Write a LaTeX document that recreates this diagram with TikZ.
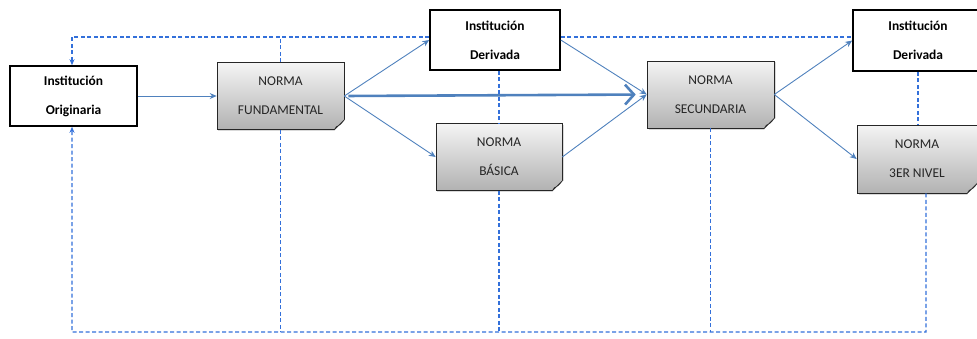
\documentclass[tikz,border=0pt]{standalone}
\usepackage{fontspec}
\setmainfont{Carlito}
\usetikzlibrary{arrows.meta, positioning, calc, shadows}
\definecolor{cblue}{HTML}{4F81BD}
\definecolor{cdash}{HTML}{3370DA}
\definecolor{ctop}{HTML}{F4F4F4}
\definecolor{cbot}{HTML}{B2B2B2}

\begin{document}
\begin{tikzpicture}[x=1bp, y=-1bp,
  inst/.style={draw=black, line width=1.6pt, fill=white, inner sep=0pt,
    minimum width=127bp, minimum height=60bp, align=center,
    font=\fontsize{13.5}{29}\selectfont\bfseries},
  norma/.style={draw=black!85, line width=0.6pt,
    top color=ctop, bottom color=cbot, inner sep=0pt,
    drop shadow={shadow xshift=1.5pt, shadow yshift=-1.5pt, opacity=0.3},
    minimum width=127bp, minimum height=67bp, align=center, text=black!85,
    font=\fontsize{13.5}{29}\selectfont},
  flow/.style={cblue, line width=0.9pt, -{Stealth[length=7pt, width=6pt]}},
  fb/.style={cdash, line width=1.4bp, dash pattern=on 4bp off 2.5bp},
  fbarr/.style={fb, -{Stealth[length=6pt, width=5pt]}}]
  \useasboundingbox (0,0) rectangle (977,338);
  \clip (0,0) rectangle (977,338);

  % corners of the feedback loop
  \coordinate (tl) at (72,37);
  \coordinate (bl) at (72,332);
  \coordinate (br) at (926,332);

  \node[inst] (orig) at (73.5,96) {Institución\\Originaria};
  \node[norma] (fund) at (280.5,96) {NORMA\\FUNDAMENTAL};
  \node[inst, minimum width=130bp] (der1) at (495,40) {Institución\\Derivada};
  \node[norma, minimum width=126bp] (bas) at (499,157) {NORMA\\BÁSICA};
  \node[norma] (sec) at (710.5,94.5) {NORMA\\SECUNDARIA};
  \node[inst, minimum width=130bp, minimum height=61bp] (der2) at (918,40.5) {Institución\\Derivada};
  \node[norma, minimum width=120bp, minimum height=68bp] (niv3) at (917,159) {NORMA\\3ER NIVEL};

  % folded corners
  \foreach \n in {fund,bas,sec,niv3}{
    \coordinate (fc) at (\n.south east);
    \fill[white] ($(fc)+(-10,0)$) -- ($(fc)+(-10,3)$) -- ($(fc)+(3,3)$)
      -- ($(fc)+(3,-10)$) -- ($(fc)+(0,-10)$) -- cycle;
    \draw[black!85, line width=0.6pt, fill=black!28, line join=round]
      ($(fc)+(0,-10)$) .. controls ($(fc)+(-4,-5)$) .. ($(fc)+(-8,-3)$)
      -- ($(fc)+(-10,0)$) -- cycle;
  }

  % main flow
  \draw[flow] (orig.east) -- (fund.west);
  \draw[flow] (fund.east) -- (der1.west);
  \draw[flow] (fund.east) -- (bas.west);
  \draw[cblue, line width=2.6pt, shorten <=4pt, shorten >=11pt,
    -{Straight Barb[length=9pt, width=20pt, line width=2.6pt]}] (fund.east) -- (sec.west);
  \draw[flow] (der1.east) -- (sec.west);
  \draw[flow] (bas.east) -- (sec.west);
  \draw[flow] (sec.east) -- (der2.west);
  \draw[flow] (sec.east) -- (niv3.west);

  % dashed links
  \draw[fbarr] (tl -| der1.west) -- (tl) -- (tl |- orig.north);
  \draw[fb] (fund.north) -- (fund.north |- tl);
  \draw[fb] (tl -| der1.east) -- (tl -| der2.west);
  \draw[fb] (der1.south -| bas.north) -- (bas.north);
  \draw[fb] (der2.south) -- (der2.south |- niv3.north);
  \draw[fbarr] ([xshift=9bp]niv3.south) -- (br) -- (bl) -- (bl |- orig.south);
  \foreach \n in {fund,bas,sec}{
    \draw[fb] (\n.south) -- (\n.south |- bl);
  }
\end{tikzpicture}
\end{document}
